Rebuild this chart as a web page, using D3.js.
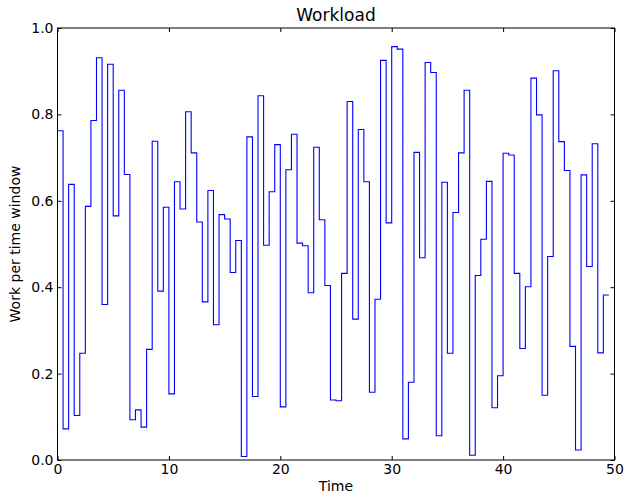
<!DOCTYPE html>
<html>
<head>
<meta charset="utf-8">
<script src="https://cdn.jsdelivr.net/npm/d3@7"></script>
<style>
  html, body { margin: 0; padding: 0; background: #fff; }
  svg { display: block; }
  text { font-family: "DejaVu Sans", sans-serif; fill: #000; }
</style>
</head>
<body>
<svg id="chart" width="624" height="495"></svg>
<script>
// ---- data ----
const windowWidth = 0.5;
const workload = [
  0.762, 0.072, 0.638, 0.103, 0.247, 0.587, 0.786, 0.931, 0.360, 0.916,
  0.565, 0.856, 0.661, 0.093, 0.116, 0.076, 0.256, 0.738, 0.391, 0.585,
  0.153, 0.644, 0.581, 0.806, 0.711, 0.551, 0.366, 0.624, 0.313, 0.568,
  0.558, 0.434, 0.508, 0.008, 0.748, 0.147, 0.843, 0.497, 0.621, 0.730,
  0.123, 0.672, 0.754, 0.502, 0.496, 0.387, 0.724, 0.556, 0.404, 0.139,
  0.137, 0.432, 0.830, 0.326, 0.765, 0.644, 0.157, 0.372, 0.925, 0.549,
  0.957, 0.951, 0.049, 0.180, 0.712, 0.468, 0.920, 0.897, 0.056, 0.643,
  0.247, 0.573, 0.711, 0.856, 0.011, 0.427, 0.511, 0.645, 0.121, 0.195,
  0.710, 0.706, 0.432, 0.258, 0.401, 0.884, 0.799, 0.150, 0.471, 0.901,
  0.737, 0.670, 0.263, 0.023, 0.660, 0.448, 0.732, 0.248, 0.382
];
const xTicks = [0, 10, 20, 30, 40, 50];
const yTicks = [0.0, 0.2, 0.4, 0.6, 0.8, 1.0];
const titleText = "Workload";
const xLabel = "Time";
const yLabel = "Work per time window";

// ---- layout ----
const M = { left: 57.5, right: 614.5, top: 28, bottom: 460 };
const svg = d3.select("#chart");

const x = d3.scaleLinear().domain([0, 50]).range([M.left, M.right]);
const y = d3.scaleLinear().domain([0, 1]).range([M.bottom, M.top]);

// step points
const pts = workload.map((v, i) => [i * windowWidth, v]);
pts.push([workload.length * windowWidth, workload[workload.length - 1]]);

const line = d3.line()
  .x(d => x(d[0]))
  .y(d => y(d[1]))
  .curve(d3.curveStepAfter);

svg.append("path")
  .datum(pts)
  .attr("d", line)
  .attr("fill", "none")
  .attr("stroke", "#0000ff")
  .attr("stroke-width", 1.1);

// axes (ticks inward on all sides)
const tickLen = 4;
const fmtY = d3.format(".1f");
const axBottom = d3.axisBottom(x).tickValues(xTicks).tickSizeInner(-tickLen).tickSizeOuter(0).tickPadding(4).tickFormat(d3.format("d"));
const axTop = d3.axisTop(x).tickValues(xTicks).tickSizeInner(-tickLen).tickSizeOuter(0).tickFormat("");
const axLeft = d3.axisLeft(y).tickValues(yTicks).tickSizeInner(-tickLen).tickSizeOuter(0).tickPadding(4).tickFormat(fmtY);
const axRight = d3.axisRight(y).tickValues(yTicks).tickSizeInner(-tickLen).tickSizeOuter(0).tickFormat("");

function styleAxis(g) {
  g.select(".domain").remove();
  g.selectAll(".tick line").attr("stroke", "#000").attr("stroke-width", 1);
  g.selectAll(".tick text").attr("font-size", 14).attr("font-family", "DejaVu Sans, sans-serif").attr("fill", "#000");
}

svg.append("g").attr("transform", `translate(0,${M.bottom})`).call(axBottom).call(styleAxis);
svg.append("g").attr("transform", `translate(0,${M.top})`).call(axTop).call(styleAxis);
svg.append("g").attr("transform", `translate(${M.left},0)`).call(axLeft).call(styleAxis);
svg.append("g").attr("transform", `translate(${M.right},0)`).call(axRight).call(styleAxis);

// frame
svg.append("rect")
  .attr("x", M.left).attr("y", M.top)
  .attr("width", M.right - M.left).attr("height", M.bottom - M.top)
  .attr("fill", "none").attr("stroke", "#000").attr("stroke-width", 1);

// title & labels
svg.append("text")
  .attr("x", (M.left + M.right) / 2).attr("y", 21)
  .attr("text-anchor", "middle").attr("font-size", 17)
  .text(titleText);

svg.append("text")
  .attr("x", (M.left + M.right) / 2).attr("y", 491)
  .attr("text-anchor", "middle").attr("font-size", 14)
  .text(xLabel);

svg.append("text")
  .attr("transform", `translate(20,${(M.top + M.bottom) / 2}) rotate(-90)`)
  .attr("text-anchor", "middle").attr("font-size", 14)
  .text(yLabel);
</script>
</body>
</html>
